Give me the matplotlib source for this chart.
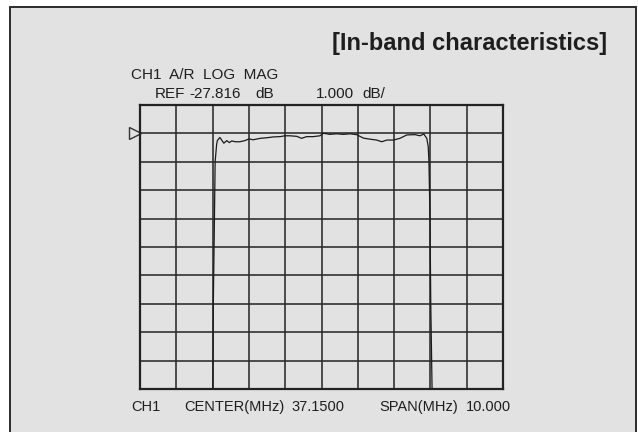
import numpy as np
import matplotlib
matplotlib.use("Agg")
import matplotlib.pyplot as plt
from matplotlib.patches import Rectangle

plt.rcParams['font.family'] = ['Liberation Sans', 'DejaVu Sans']

# analyser settings
center_mhz = 37.15
span_mhz = 10.0
ref_db = -27.816
db_per_div = 1.0
ref_div_from_top = 1

# trace (MHz, dB)
freq = [34.15, 34.17, 34.20, 34.22, 34.26, 34.28, 34.35, 34.46, 34.54, 34.61,
        34.68, 34.77, 34.90, 35.04, 35.15, 35.27, 35.46, 35.64, 35.82, 36.01,
        36.14, 36.28, 36.47, 36.60, 36.74, 36.92, 37.11, 37.20, 37.38, 37.57,
        37.75, 37.94, 38.12, 38.30, 38.49, 38.67, 38.81, 38.95, 39.13, 39.31,
        39.50, 39.73, 39.86, 39.97, 40.05, 40.09, 40.11, 40.14, 40.16, 40.21]
level = [-38.00, -33.79, -30.87, -28.81, -28.22, -28.07, -27.96, -28.16, -28.07, -28.14,
         -28.08, -28.11, -28.11, -28.07, -28.01, -28.04, -27.99, -27.97, -27.94, -27.93,
         -27.90, -27.90, -27.92, -27.99, -27.93, -27.93, -27.90, -27.81, -27.85, -27.83,
         -27.85, -27.83, -27.86, -27.98, -28.02, -28.05, -28.11, -28.05, -28.05, -27.99,
         -27.87, -27.86, -27.90, -27.84, -27.99, -28.28, -28.81, -30.87, -33.79, -38.00]

W, H = 638, 432
bg = '#e2e2e2'
ink = '#222222'

fig = plt.figure(figsize=(W / 100, H / 100), dpi=100, facecolor='white')


def fx(x):
    return x / W


def fy(y):
    return 1 - y / H


# panel frame
fig.add_artist(Rectangle((fx(10), -0.1), fx(626), fy(7) + 0.1,
                         transform=fig.transFigure, facecolor=bg,
                         edgecolor='#2b2b2b', lw=1.4, zorder=-1))

ax = fig.add_axes([fx(140), fy(389), fx(363), (389 - 105) / H])
ax.set_facecolor(bg)

f_lo = center_mhz - span_mhz / 2
f_hi = center_mhz + span_mhz / 2
top = ref_db + ref_div_from_top * db_per_div
bottom = top - 10 * db_per_div
ax.set_xlim(f_lo, f_hi)
ax.set_ylim(bottom, top)
ax.set_xticks(np.linspace(f_lo, f_hi, 11))
ax.set_yticks(np.linspace(bottom, top, 11))
ax.tick_params(length=0, labelbottom=False, labelleft=False)
ax.grid(True, color='#2a2a2a', lw=1.15)
for s in ax.spines.values():
    s.set_color(ink)
    s.set_linewidth(1.6)

ax.plot(freq, level, color='#1a1a1a', lw=0.9)

# reference level marker
ax.plot([f_lo - 0.15], [ref_db], marker='>', ms=9, mfc='none', mec='#333333',
        mew=1.0, clip_on=False)

fig.text(fx(607), fy(50), '[In-band characteristics]', ha='right', va='baseline',
         fontsize=17, fontweight='bold', color='#1e1e1e')

upper = dict(fontsize=11, color='#1e1e1e', va='baseline')
fig.text(fx(131), fy(79), 'CH1  A/R  LOG  MAG', **upper)
fig.text(fx(155), fy(98), 'REF', **upper)
fig.text(fx(189), fy(98), f'{ref_db:.3f}', **upper)
fig.text(fx(255), fy(98), 'dB', **upper)
fig.text(fx(316), fy(98), f'{db_per_div:.3f}', **upper)
fig.text(fx(362), fy(98), 'dB/', **upper)

lower = dict(fontsize=10.5, color='#1e1e1e', va='baseline')
fig.text(fx(131), fy(411), 'CH1', **lower)
fig.text(fx(184), fy(411), 'CENTER(MHz)', **lower)
fig.text(fx(291), fy(411), f'{center_mhz:.4f}', **lower)
fig.text(fx(379), fy(411), 'SPAN(MHz)', **lower)
fig.text(fx(466), fy(411), f'{span_mhz:.3f}', **lower)

fig.savefig('out.png', dpi=100, facecolor='white')
